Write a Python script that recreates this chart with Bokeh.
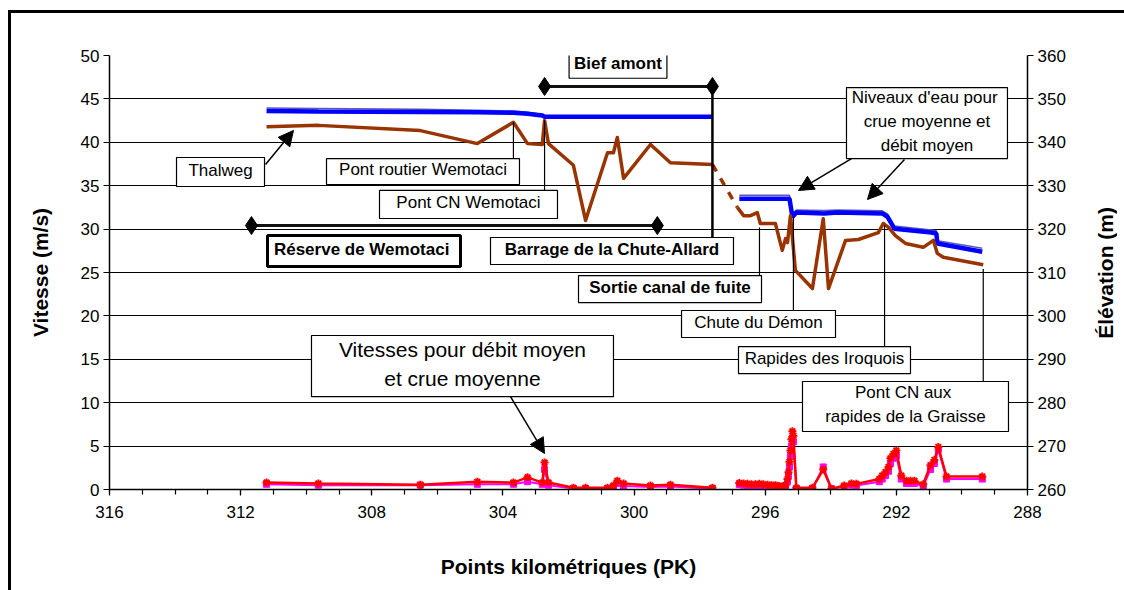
from bokeh.plotting import figure
from bokeh.layouts import row
from bokeh.models import (Range1d, LinearAxis, SingleIntervalTicker, Arrow,
                          NormalHead, Label, ColumnDataSource, Div)
from bokeh.core.properties import value
from bokeh.embed import file_html
from bokeh.resources import INLINE

FONT = "Liberation Sans"

# ---------------------------------------------------------------- data
# Thalweg elevation (m), reach upstream of the dam and downstream reach
pk_thalweg_amont = [311.21, 309.63, 306.52, 304.78, 303.68, 303.25, 302.80, 302.73, 302.61,
                    301.85, 301.48, 300.81, 300.63, 300.51, 300.32, 299.50, 298.89, 297.61]
thalweg_amont = [343.6, 343.9, 342.7, 339.7, 344.6, 339.7, 339.5, 345.0, 339.7,
                 334.7, 322.0, 337.6, 337.6, 341.1, 331.7, 339.5, 335.3, 334.9]
pk_thalweg_aval = [296.85, 296.66, 296.45, 296.24, 296.15, 295.69, 295.48, 295.38, 295.32,
                   295.23, 295.08, 294.56, 294.23, 294.07, 293.55, 293.16, 292.55, 292.40,
                   292.24, 292.03, 291.72, 291.18, 290.87, 290.75, 290.57, 289.35]
thalweg_aval = [325.0, 323.1, 323.1, 323.8, 321.3, 321.3, 315.1, 317.8, 316.9,
                323.1, 310.5, 306.3, 322.4, 306.3, 317.4, 317.6, 319.2, 321.3,
                320.4, 318.5, 316.7, 315.8, 317.4, 314.4, 313.5, 311.8]

# Water levels (m): mean flow and mean flood
pk_niveau_amont = [311.21, 309.63, 306.52, 304.78, 303.68, 303.25, 302.80, 302.73,
                   302.61, 301.85, 300.81, 299.50, 298.89, 297.61]
niveau_debit_amont = [347.2, 347.1, 347.0, 346.9, 346.8, 346.6, 346.2, 345.9,
                      345.9, 345.9, 345.9, 345.9, 345.9, 345.9]
niveau_crue_amont = [347.9, 347.8, 347.6, 347.4, 347.2, 346.9, 346.4, 346.1,
                     346.1, 346.1, 346.1, 346.1, 346.1, 346.1]
pk_niveau_aval = [296.79, 295.26, 295.17, 295.05, 294.20, 293.80, 292.43, 292.27,
                  292.06, 290.93, 290.78, 290.75, 289.38]
niveau_debit_aval = [327.0, 327.0, 322.8, 323.8, 323.6, 323.8, 323.6, 322.8,
                     320.1, 319.2, 319.0, 316.7, 314.8]
niveau_crue_aval = [327.8, 327.8, 323.6, 324.4, 324.3, 324.4, 324.2, 323.5,
                    320.7, 319.8, 319.6, 317.3, 315.6]

# Velocities (m/s): mean flood (red) and mean flow (magenta)
pk_vitesse_amont = [311.21, 309.63, 306.52, 304.78, 303.68, 303.25, 302.80, 302.73, 302.61,
                    301.85, 301.48, 300.81, 300.63, 300.51, 300.32, 299.50, 298.89, 297.61]
vitesse_crue_amont = [0.8, 0.7, 0.55, 0.9, 0.8, 1.4, 0.8, 3.1, 0.8,
                      0.2, 0.2, 0.2, 0.45, 1.0, 0.7, 0.45, 0.55, 0.2]
vitesse_debit_amont = [0.6, 0.5, 0.5, 0.6, 0.6, 0.9, 0.6, 2.3, 0.5,
                       0.1, 0.1, 0.1, 0.3, 0.7, 0.4, 0.3, 0.35, 0.1]
pk_vitesse_aval = [296.79, 296.66, 296.54, 296.42, 296.30, 296.18, 296.06, 295.93, 295.81,
                   295.69, 295.57, 295.48, 295.38, 295.32, 295.29, 295.26, 295.23, 295.20,
                   295.17, 295.14, 295.05, 294.56, 294.23, 293.98, 293.59, 293.37, 293.22,
                   292.52, 292.43, 292.33, 292.24, 292.18, 292.09, 292.00, 291.85, 291.69,
                   291.57, 291.45, 291.18, 290.96, 290.84, 290.72, 290.47, 289.38]
vitesse_crue_aval = [0.75, 0.7, 0.65, 0.6, 0.6, 0.65, 0.6, 0.55, 0.5,
                     0.5, 0.4, 0.35, 0.5, 1.2, 2.0, 3.2, 4.5, 5.8,
                     6.7, 6.2, 0.2, 0.2, 2.3, 0.1, 0.45, 0.7, 0.65,
                     1.2, 1.6, 2.0, 2.6, 3.6, 4.1, 4.5, 1.6, 1.0,
                     1.0, 1.0, 0.6, 2.8, 3.4, 4.9, 1.5, 1.5]
vitesse_debit_aval = [0.55, 0.5, 0.45, 0.45, 0.4, 0.45, 0.4, 0.4, 0.35,
                      0.35, 0.25, 0.2, 0.3, 0.9, 1.6, 2.6, 3.8, 5.0,
                      5.9, 5.5, 0.1, 0.1, 2.6, 0.1, 0.3, 0.5, 0.45,
                      0.9, 1.2, 1.6, 2.1, 3.0, 3.6, 3.9, 1.2, 0.7,
                      0.7, 0.7, 0.4, 2.3, 3.0, 4.6, 1.2, 1.2]


def elev_to_v(e):
    """Elevation (right axis, 260-360 m) expressed on the velocity axis (0-50)."""
    return (e - 260.0) / 2.0


# ---------------------------------------------------------------- figure
p = figure(width=1074, height=577, title=None,
           x_range=Range1d(316, 288), y_range=Range1d(0, 50),
           output_backend="svg", toolbar_location=None,
           min_border_left=98, min_border_right=58,
           min_border_top=42, min_border_bottom=101)
p.outline_line_color = None
p.background_fill_color = "white"
p.border_fill_color = "white"

p.extra_y_ranges = {"elev": Range1d(260, 360)}
right_axis = LinearAxis(y_range_name="elev")
p.add_layout(right_axis, "right")

p.xaxis.ticker = SingleIntervalTicker(interval=4, num_minor_ticks=4)
p.yaxis[0].ticker = SingleIntervalTicker(interval=5)
right_axis.ticker = SingleIntervalTicker(interval=10)
p.xgrid.visible = False
p.ygrid.ticker = SingleIntervalTicker(interval=5)
p.ygrid.grid_line_color = "black"
p.ygrid.grid_line_width = 1

for ax in p.axis:
    ax.axis_line_color = "black"
    ax.axis_line_width = 1.5
    ax.major_tick_line_color = "black"
    ax.major_tick_line_width = 1.2
    ax.major_tick_in = 0
    ax.major_tick_out = 6
    ax.minor_tick_in = 0
    ax.minor_tick_out = 5
    ax.minor_tick_line_color = None
    ax.major_label_text_font = FONT
    ax.major_label_text_font_size = "17px"
    ax.major_label_text_color = "black"
    ax.major_label_standoff = 4
    ax.axis_label_text_font = FONT
    ax.axis_label_text_font_size = "21px"
    ax.axis_label_text_font_style = "bold"
    ax.axis_label_text_color = "black"

p.xaxis.minor_tick_line_color = "black"
p.xaxis.minor_tick_line_width = 1.2
p.xaxis.major_label_standoff = 10
p.xaxis.axis_label = "Points kilométriques (PK)"
p.xaxis.axis_label_standoff = 34
p.yaxis[0].axis_label = "Vitesse (m/s)"
p.yaxis[0].axis_label_standoff = 26

# ---------------------------------------------------------------- series
# velocities (left axis)
p.line(pk_vitesse_amont, vitesse_debit_amont, line_color="#ff00ff", line_width=2)
p.line(pk_vitesse_aval, vitesse_debit_aval, line_color="#ff00ff", line_width=2)
p.scatter(pk_vitesse_amont + pk_vitesse_aval, vitesse_debit_amont + vitesse_debit_aval,
          marker="square", size=6, color="#ff00ff")
p.line(pk_vitesse_amont, vitesse_crue_amont, line_color="#ff0000", line_width=2.5)
p.line(pk_vitesse_aval, vitesse_crue_aval, line_color="#ff0000", line_width=2.5)
p.scatter(pk_vitesse_amont + pk_vitesse_aval, vitesse_crue_amont + vitesse_crue_aval,
          marker="asterisk", size=8, line_width=2, line_color="#ff0000")

# water levels (right axis)
for pk, crue, debit in ((pk_niveau_amont, niveau_crue_amont, niveau_debit_amont),
                        (pk_niveau_aval, niveau_crue_aval, niveau_debit_aval)):
    p.line(pk, crue, y_range_name="elev", line_color="#5a5ab8", line_width=1.6)
    p.line(pk, debit, y_range_name="elev", line_color="#0000ff", line_width=4.5)

# thalweg (right axis)
p.line(pk_thalweg_amont, thalweg_amont, y_range_name="elev",
       line_color="#993300", line_width=3.5, line_join="round")
p.line(pk_thalweg_aval, thalweg_aval, y_range_name="elev",
       line_color="#993300", line_width=3.5, line_join="round")
p.line([pk_thalweg_amont[-1], pk_thalweg_aval[0]], [thalweg_amont[-1], thalweg_aval[0]],
       y_range_name="elev", line_color="#993300", line_width=3.5, line_dash="8 8")

# ---------------------------------------------------------------- annotations
# reach extents
pk_barrage = pk_thalweg_amont[-1]
pk_pont_cn = pk_thalweg_amont[7]
pk_pont_routier = pk_thalweg_amont[4]
bief = dict(x=[pk_pont_cn, pk_barrage], y=[46.43, 46.43])
reserve = dict(x=[311.67, 299.29], y=[30.41, 30.41])
for seg in (bief, reserve):
    p.line(seg["x"], seg["y"], line_color="#111111", line_width=3)
    p.scatter(seg["x"], seg["y"], marker="diamond", size=18, color="black")

# dam line
p.line([pk_barrage, pk_barrage], [46.43, 29.03], line_color="black", line_width=2.5)

# leader lines
leaders = ColumnDataSource(dict(
    x0=[pk_pont_routier, pk_pont_cn, 296.175, 295.14, 292.36, 289.35],
    y0=[elev_to_v(thalweg_amont[4]), elev_to_v(thalweg_amont[7]), 30.18, 31.34, 30.41, 25.4],
    y1=[38.13, 34.45, 24.65, 20.62, 16.47, 12.44],
))
p.segment(x0="x0", y0="y0", x1="x0", y1="y1", source=leaders, line_color="black", line_width=1.2)

# text boxes
boxes = ColumnDataSource(dict(
    left=[313.956, 309.381, 307.765, 298.553, 296.815, 294.863, 293.521, 309.839],
    right=[311.272, 303.495, 302.336, 293.856, 291.569, 288.580, 288.611, 300.628],
    top=[38.25, 38.13, 34.45, 20.62, 16.47, 12.44, 46.31, 17.74],
    bottom=[34.91, 35.14, 31.22, 17.51, 13.36, 6.68, 38.13, 10.71],
    text=["Thalweg", "Pont routier Wemotaci", "Pont CN Wemotaci", "Chute du Démon",
          "Rapides des Iroquois", "Pont CN  aux\nrapides de la Graisse",
          "Niveaux d'eau  pour\ncrue moyenne et\ndébit moyen",
          "Vitesses pour débit moyen\net crue moyenne"],
    size=["17px"] * 7 + ["21px"],
))
boxes.data["xc"] = [(l + r) / 2 for l, r in zip(boxes.data["left"], boxes.data["right"])]
boxes.data["yc"] = [(t + b) / 2 + 0.2 for t, b in zip(boxes.data["top"], boxes.data["bottom"])]
p.quad(left="left", right="right", top="top", bottom="bottom", source=boxes,
       fill_color="white", line_color="black", line_width=1.2)
p.text(x="xc", y="yc", text="text", source=boxes, text_font=value(FONT),
       text_font_size="size", text_align="center", text_baseline="middle",
       text_line_height=1.25, text_color="black")

bold_boxes = ColumnDataSource(dict(
    left=[311.181, 304.379, 301.695],
    right=[305.294, 296.968, 296.113],
    top=[29.26, 29.03, 24.65],
    bottom=[25.69, 25.92, 21.54],
    width=[3, 1.2, 1.2],
    text=["Réserve de  Wemotaci", "Barrage de la Chute-Allard", "Sortie canal de fuite"],
))
bold_boxes.data["xc"] = [(l + r) / 2 for l, r in zip(bold_boxes.data["left"], bold_boxes.data["right"])]
bold_boxes.data["yc"] = [(t + b) / 2 + 0.2 for t, b in zip(bold_boxes.data["top"], bold_boxes.data["bottom"])]
p.quad(left="left", right="right", top="top", bottom="bottom", source=bold_boxes,
       fill_color="white", line_color="black", line_width="width")
p.text(x="xc", y="yc", text="text", source=bold_boxes, text_font=value(FONT),
       text_font_size="17px", text_font_style="bold", text_align="center",
       text_baseline="middle", text_color="black")

p.add_layout(Label(x=300.49, y=49.05, text="Bief amont", text_font=FONT,
                   text_font_size="17px", text_font_style="bold", text_align="center",
                   text_baseline="middle", text_color="black",
                   border_line_color="black", border_line_width=1.2,
                   background_fill_color="white", padding=5))

# arrows
for xs, ys, xe, ye in ((311.242, 37.44, 310.388, 41.36),
                       (293.369, 38.13, 294.985, 34.45),
                       (291.752, 38.02, 292.881, 33.41),
                       (303.769, 10.71, 302.732, 4.15)):
    p.add_layout(Arrow(x_start=xs, y_start=ys, x_end=xe, y_end=ye, line_width=1.5,
                       end=NormalHead(size=15, fill_color="black", line_color="black")))

# right-hand axis title, reading upwards like the left one
titre_droite = Div(
    width=39, height=577,
    text=("<div style=\"writing-mode: vertical-rl; transform: rotate(180deg); "
          "font-family: 'Liberation Sans'; font-weight: bold; font-size: 21px; "
          "color: black; white-space: nowrap; line-height: 24px; "
          "margin-top: 189px; margin-left: 4px;\">Élévation (m)</div>"),
)

page = row(p, titre_droite, spacing=0)
page.styles = {"margin-left": "8px", "margin-top": "10px",
               "border-top": "3px solid black", "border-left": "3px solid black",
               "background-color": "white"}

open("out.html", "w").write(file_html(page, INLINE))
